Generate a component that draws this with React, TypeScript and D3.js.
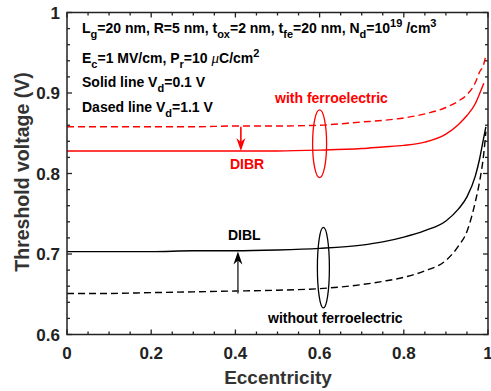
import React, { useEffect, useRef } from "react";
import * as d3 from "d3";

// eccentricity samples
const ecc = [0, 0.1, 0.2, 0.3, 0.4, 0.5, 0.6, 0.7, 0.75, 0.8, 0.85, 0.9, 0.93, 0.95, 0.97, 0.98, 0.99, 0.995];

// with ferroelectric
const ferroVd01 = [0.828, 0.828, 0.828, 0.828, 0.828, 0.828, 0.829, 0.831, 0.833, 0.835, 0.839, 0.849, 0.861, 0.872, 0.887, 0.899, 0.912];
const ferroVd11 = [0.858, 0.858, 0.858, 0.858, 0.859, 0.859, 0.86, 0.864, 0.866, 0.869, 0.874, 0.882, 0.89, 0.898, 0.913, 0.926, 0.936, 0.947];
// without ferroelectric
const baseVd01 = [0.703, 0.703, 0.703, 0.704, 0.704, 0.705, 0.707, 0.711, 0.715, 0.721, 0.729, 0.741, 0.756, 0.771, 0.797, 0.818, 0.845, 0.858];
const baseVd11 = [0.651, 0.651, 0.652, 0.653, 0.654, 0.655, 0.657, 0.662, 0.666, 0.671, 0.679, 0.692, 0.71, 0.728, 0.765, 0.79, 0.825, 0.852];

const xTicks = [0, 0.2, 0.4, 0.6, 0.8, 1];
const yTicks = [0.6, 0.7, 0.8, 0.9, 1];

const RED = "#ff0000";
const FONT = "'Liberation Sans', Arial, sans-serif";

const App = () => {
  const svgRef = useRef<SVGSVGElement>(null);

  const width = 491;
  const height = 391;
  const margin = { top: 12.5, right: 3, bottom: 56.5, left: 67 };

  const x = d3.scaleLinear().domain([0, 1]).range([margin.left, width - margin.right]);
  const y = d3.scaleLinear().domain([0.6, 1]).range([height - margin.bottom, margin.top]);

  useEffect(() => {
    const svg = d3.select(svgRef.current);
    svg.selectAll(".plot").remove();
    const g = svg.append("g").attr("class", "plot");

    const line = d3
      .line<[number, number]>()
      .x((d) => x(d[0]))
      .y((d) => y(d[1]))
      .curve(d3.curveMonotoneX);

    const series = [
      { v: ferroVd01, color: RED, dash: null },
      { v: ferroVd11, color: RED, dash: "7,4" },
      { v: baseVd01, color: "#000", dash: null },
      { v: baseVd11, color: "#000", dash: "7,4" },
    ];
    series.forEach((s) => {
      const pts = s.v.map((v, i) => [ecc[i], v] as [number, number]);
      g.append("path")
        .attr("d", line(pts))
        .attr("fill", "none")
        .attr("stroke", s.color)
        .attr("stroke-width", 1.4)
        .attr("stroke-dasharray", s.dash);
    });

    // axes: ticks inward, mirrored on top/right
    const [x0, x1] = x.range();
    const [y0, y1] = y.range();
    const xMinor = d3.range(0, 1.0001, 0.05);
    const yMinor = d3.range(0.6, 1.0001, 0.02);
    const tickCol = "#222";
    xMinor.forEach((t, i) => {
      const len = i % 4 === 0 ? 5 : 3;
      g.append("line").attr("x1", x(t)).attr("x2", x(t)).attr("y1", y0).attr("y2", y0 - len).attr("stroke", tickCol).attr("stroke-width", 1.3);
      g.append("line").attr("x1", x(t)).attr("x2", x(t)).attr("y1", y1).attr("y2", y1 + len).attr("stroke", tickCol).attr("stroke-width", 1.3);
    });
    yMinor.forEach((t, i) => {
      const len = i % 5 === 0 ? 5 : 3;
      g.append("line").attr("y1", y(t)).attr("y2", y(t)).attr("x1", x0).attr("x2", x0 + len).attr("stroke", tickCol).attr("stroke-width", 1.3);
      g.append("line").attr("y1", y(t)).attr("y2", y(t)).attr("x1", x1).attr("x2", x1 - len).attr("stroke", tickCol).attr("stroke-width", 1.3);
    });
    g.append("rect")
      .attr("x", x0)
      .attr("y", y1)
      .attr("width", x1 - x0)
      .attr("height", y0 - y1)
      .attr("fill", "none")
      .attr("stroke", tickCol)
      .attr("stroke-width", 1.5);

    g.selectAll(".xl")
      .data(xTicks)
      .enter()
      .append("text")
      .attr("x", (d) => x(d))
      .attr("y", y0 + 24)
      .attr("text-anchor", "middle")
      .attr("font-family", FONT)
      .attr("font-weight", "bold")
      .attr("font-size", 17)
      .attr("fill", "#222")
      .text((d) => d3.format("")(d));
    g.selectAll(".yl")
      .data(yTicks)
      .enter()
      .append("text")
      .attr("x", x0 - 7)
      .attr("y", (d) => y(d) + 6)
      .attr("text-anchor", "end")
      .attr("font-family", FONT)
      .attr("font-weight", "bold")
      .attr("font-size", 17)
      .attr("fill", "#222")
      .text((d) => d3.format("")(d));

    // ellipses
    g.append("ellipse")
      .attr("cx", x(0.6))
      .attr("cy", y(0.837))
      .attr("rx", 7)
      .attr("ry", y(0.837) - y(0.879))
      .attr("fill", "none")
      .attr("stroke", RED)
      .attr("stroke-width", 1.3);
    g.append("ellipse")
      .attr("cx", x(0.609))
      .attr("cy", y(0.683))
      .attr("rx", 6)
      .attr("ry", y(0.683) - y(0.733))
      .attr("fill", "none")
      .attr("stroke", "#000")
      .attr("stroke-width", 1.3);

    // arrows
    const arrow = (xv: number, from: number, to: number, color: string, shaft: string) => {
      const ax = x(xv);
      const ya = y(from);
      const yb = y(to);
      const dir = yb > ya ? 1 : -1;
      g.append("line")
        .attr("x1", ax)
        .attr("x2", ax)
        .attr("y1", ya)
        .attr("y2", yb - dir * 6)
        .attr("stroke", shaft)
        .attr("stroke-width", 1.6);
      g.append("path")
        .attr(
          "d",
          `M${ax},${yb} L${ax - 4.5},${yb - dir * 13} L${ax},${yb - dir * 9} L${ax + 4.5},${yb - dir * 13} Z`
        )
        .attr("fill", color);
    };
    arrow(0.413, 0.858, 0.828, RED, RED);
    arrow(0.406, 0.651, 0.703, "#000", "#444");
  }, []);

  const txt = { fontFamily: FONT, fontWeight: "bold" as const, fontSize: 14 };
  const sub = { fontSize: 11 };

  return (
    <svg ref={svgRef} width={width} height={height} style={{ position: "absolute", left: 0, top: 0, background: "#fff" }}>
      <g style={txt} fill="#000">
        <text x={82} y={33}>
          L<tspan dy={5} style={sub}>g</tspan>
          <tspan dy={-5}>=20 nm, R=5 nm, t</tspan>
          <tspan dy={5} style={sub}>ox</tspan>
          <tspan dy={-5}>=2 nm, t</tspan>
          <tspan dy={5} style={sub}>fe</tspan>
          <tspan dy={-5}>=20 nm, N</tspan>
          <tspan dy={5} style={sub}>d</tspan>
          <tspan dy={-5}>=10</tspan>
          <tspan dy={-6} style={sub}>19</tspan>
          <tspan dy={6}> /cm</tspan>
          <tspan dy={-6} style={sub}>3</tspan>
        </text>
        <text x={82} y={63}>
          E<tspan dy={5} style={sub}>c</tspan>
          <tspan dy={-5}>=1 MV/cm, P</tspan>
          <tspan dy={5} style={sub}>r</tspan>
          <tspan dy={-5}>=10 </tspan>
          <tspan style={{ fontFamily: "'Liberation Serif', serif", fontStyle: "italic", fontWeight: "normal", fontSize: 15 }}>μ</tspan>
          <tspan>C/cm</tspan>
          <tspan dy={-6} style={sub}>2</tspan>
        </text>
        <text x={82} y={87}>
          Solid line V<tspan dy={5} style={sub}>d</tspan>
          <tspan dy={-5}>=0.1 V</tspan>
        </text>
        <text x={82} y={112}>
          Dased line V<tspan dy={5} style={sub}>d</tspan>
          <tspan dy={-5}>=1.1 V</tspan>
        </text>
        <text x={275} y={103} fill={RED}>with ferroelectric</text>
        <text x={230} y={169} fill={RED}>DIBR</text>
        <text x={228} y={240}>DIBL</text>
        <text x={268} y={323}>without ferroelectric</text>
      </g>
      <text
        x={278}
        y={384}
        textAnchor="middle"
        style={{ fontFamily: FONT, fontWeight: "bold", fontSize: 19 }}
        fill="#333"
      >
        Eccentricity
      </text>
      <text
        transform="translate(29,172) rotate(-90)"
        textAnchor="middle"
        style={{ fontFamily: FONT, fontWeight: "bold", fontSize: 19.5 }}
        fill="#333"
      >
        Threshold voltage (V)
      </text>
    </svg>
  );
};

export default App;
